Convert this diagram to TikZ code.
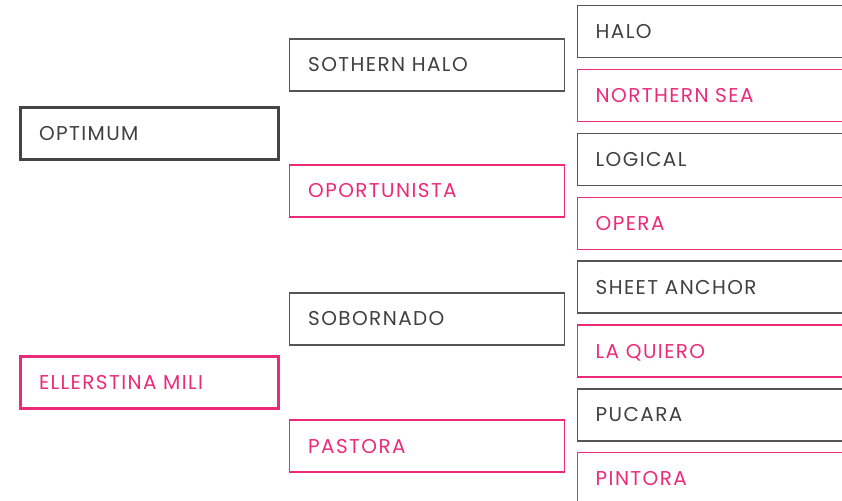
\documentclass[tikz,border=0pt]{standalone}
\usepackage{fontspec}
\setmainfont{Poppins}[LetterSpace=7]
\definecolor{pk}{HTML}{EC2A7A}
\definecolor{dk}{HTML}{404040}
\definecolor{bd}{HTML}{555555}
\definecolor{bd1}{HTML}{444444}
\tikzset{
  box/.style={draw, rectangle, anchor=west, minimum height=52bp, inner xsep=18.5bp, inner ysep=0pt,
    align=left, text height=14bp, text depth=0pt, font=\fontsize{20bp}{24bp}\selectfont},
  c1/.style={box, text width=221bp, line width=3bp},
  c2/.style={box, text width=238bp, line width=1.4bp},
  c3/.style={box, text width=263bp, line width=1.4bp},
  gr/.style={draw=bd, text=dk},
  gr1/.style={draw=bd1, text=dk},
  pkb/.style={draw=pk, text=pk}
}
\begin{document}
\begin{tikzpicture}[x=1bp,y=-1bp]
\useasboundingbox (0,0) rectangle (842,501);
\clip (0,0) rectangle (842,501);
% column 1
\node[c1,gr1] (optimum) at (19,133.5) {OPTIMUM};
\node[c1,pkb] (ellerstina) at (19,382.7) {ELLERSTINA MILI};
% column 2
\node[c2,gr] (sothern) at (289,65) {SOTHERN HALO};
\node[c2,pkb] (oportunista) at (289,191) {OPORTUNISTA};
\node[c2,gr] (sobornado) at (289,319) {SOBORNADO};
\node[c2,pkb] (pastora) at (289,446) {PASTORA};
% column 3
\node[c3,gr] (halo) at (576.5,31.7) {HALO};
\node[c3,pkb] (northern) at (576.5,95.6) {NORTHERN SEA};
\node[c3,gr] (logical) at (576.5,159.4) {LOGICAL};
\node[c3,pkb] (opera) at (576.5,223.3) {OPERA};
\node[c3,gr] (sheet) at (576.5,287.1) {SHEET ANCHOR};
\node[c3,pkb] (laquiero) at (576.5,351) {LA QUIERO};
\node[c3,gr] (pucara) at (576.5,414.8) {PUCARA};
\node[c3,pkb] (pintora) at (576.5,478.7) {PINTORA};
\end{tikzpicture}
\end{document}
